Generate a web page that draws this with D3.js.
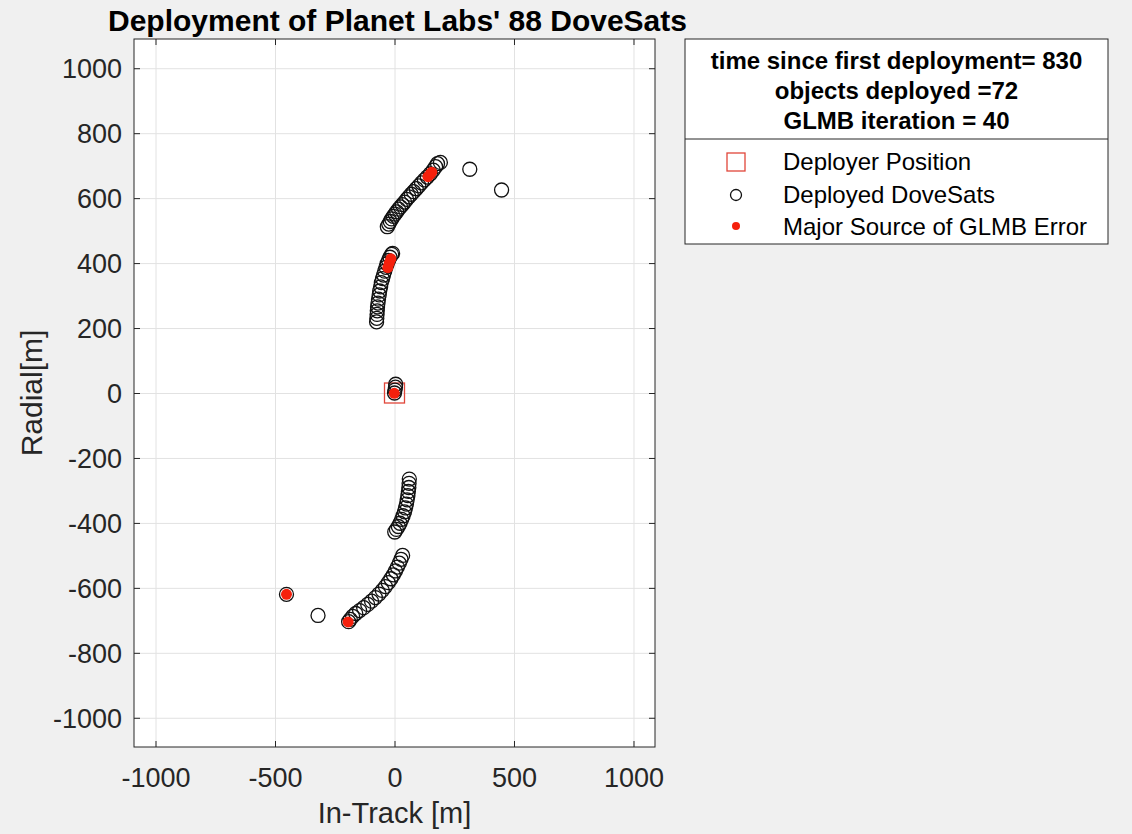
<!DOCTYPE html>
<html>
<head>
<meta charset="utf-8">
<script src="https://cdn.jsdelivr.net/npm/d3@7"></script>
<style>
  html, body { margin: 0; padding: 0; background: #f0f0f0; }
  svg { display: block; font-family: "Liberation Sans", Arial, sans-serif; }
</style>
</head>
<body>
<svg id="chart" width="1132" height="834"></svg>
<script>
// ---------------- data ----------------
const titleText = "Deployment of Planet Labs' 88 DoveSats";
const xLabel = "In-Track [m]";
const yLabel = "Radial[m]";
const xTicks = [-1000, -500, 0, 500, 1000];
const yTicks = [-1000, -800, -600, -400, -200, 0, 200, 400, 600, 800, 1000];

const legendTitle = ["time since first deployment= 830", "objects deployed =72", "GLMB iteration = 40"];
const legendNames = ["Deployer Position", "Deployed DoveSats", "Major Source of GLMB Error"];

// Deployer position
const deployerX = [0];
const deployerY = [0];

// Deployed DoveSats (in-track, radial) in metres
const deployedX = [
  // upper arc
  -30, -24, -18, -12, -5, 2, 9, 17, 25, 33, 42, 51, 60, 70, 80, 91, 102, 113, 125, 137, 150, 162, 172, 180, 192,
  // upper-middle arc
  -75, -74, -73, -72, -71, -69, -67, -64, -62, -58, -55, -50, -46, -41, -36, -31, -25, -19, -12, -8,
  // at deployer
  0, 2, 4, 5,
  // lower-middle arc
  62, 61, 60, 58, 56, 53, 50, 46, 42, 36, 30, 23, 16, 8, 1,
  // lower arc
  34, 27, 20, 12, 4, -5, -15, -26, -38, -51, -65, -80, -96, -112, -129, -146, -162, -175, -185, -192,
  // stragglers
  315, 448, -320, -452
];
const deployedY = [
  512, 520, 528, 536, 544, 551, 558, 566, 573, 580, 588, 596, 604, 612, 620, 629, 638, 647, 656, 665, 675, 686, 697, 706, 710,
  219, 230, 242, 253, 265, 277, 289, 302, 314, 327, 340, 352, 363, 375, 387, 398, 408, 418, 427, 430,
  0, 9, 18, 27,
  -265, -278, -291, -303, -316, -329, -342, -354, -366, -378, -389, -401, -411, -420, -428,
  -500, -512, -524, -536, -548, -560, -572, -584, -596, -608, -619, -630, -641, -651, -661, -670, -679, -688, -697, -704,
  689, 625, -685, -620
];

// Major source of GLMB error
const errorX = [140, 150, 156, -15, -22, -28, -1, -194, -452];
const errorY = [666, 674, 680, 413, 400, 386, -1, -705, -620];

// ---------------- layout ----------------
const svg = d3.select("#chart");
const plot = { left: 134, right: 655, top: 39, bottom: 747 };
const x = d3.scaleLinear().domain([-1090, 1090]).range([plot.left, plot.right]);
const y = d3.scaleLinear().domain([-1090, 1090]).range([plot.bottom, plot.top]);
const FONT = '"Liberation Sans", Arial, sans-serif';
const AXIS_COLOR = "#262626";
const fmt = d => String(d); // plain hyphen-minus like the original

// plot background
svg.append("rect")
  .attr("x", plot.left).attr("y", plot.top)
  .attr("width", plot.right - plot.left).attr("height", plot.bottom - plot.top)
  .attr("fill", "#ffffff");

// grid
const gridX = svg.append("g")
  .attr("transform", `translate(0,${plot.bottom})`)
  .call(d3.axisBottom(x).tickValues(xTicks).tickSize(-(plot.bottom - plot.top)).tickFormat(""));
const gridY = svg.append("g")
  .attr("transform", `translate(${plot.left},0)`)
  .call(d3.axisLeft(y).tickValues(yTicks).tickSize(-(plot.right - plot.left)).tickFormat(""));
[gridX, gridY].forEach(g => {
  g.select(".domain").remove();
  g.selectAll(".tick line").attr("stroke", "#e2e2e2").attr("stroke-width", 1);
});

// data: deployer square
const sq = 20;
svg.append("g").selectAll("rect")
  .data(d3.range(deployerX.length))
  .join("rect")
  .attr("x", i => x(deployerX[i]) - sq / 2)
  .attr("y", i => y(deployerY[i]) - sq / 2)
  .attr("width", sq).attr("height", sq)
  .attr("fill", "none")
  .attr("stroke", "#e0463a")
  .attr("stroke-width", 1.3);

// deployed circles
svg.append("g").selectAll("circle")
  .data(d3.range(deployedX.length))
  .join("circle")
  .attr("cx", i => x(deployedX[i]))
  .attr("cy", i => y(deployedY[i]))
  .attr("r", 7)
  .attr("fill", "none")
  .attr("stroke", "#111111")
  .attr("stroke-width", 1.3);

// error dots
svg.append("g").selectAll("circle")
  .data(d3.range(errorX.length))
  .join("circle")
  .attr("cx", i => x(errorX[i]))
  .attr("cy", i => y(errorY[i]))
  .attr("r", 5.5)
  .attr("fill", "#f5200c");

// axes (ticks inside)
const axB = svg.append("g").attr("transform", `translate(0,${plot.bottom})`)
  .call(d3.axisBottom(x).tickValues(xTicks).tickSizeInner(-6).tickSizeOuter(0).tickPadding(21).tickFormat(fmt));
const axT = svg.append("g").attr("transform", `translate(0,${plot.top})`)
  .call(d3.axisTop(x).tickValues(xTicks).tickSizeInner(-6).tickSizeOuter(0).tickFormat(""));
const axL = svg.append("g").attr("transform", `translate(${plot.left},0)`)
  .call(d3.axisLeft(y).tickValues(yTicks).tickSizeInner(-6).tickSizeOuter(0).tickPadding(12).tickFormat(fmt));
const axR = svg.append("g").attr("transform", `translate(${plot.right},0)`)
  .call(d3.axisRight(y).tickValues(yTicks).tickSizeInner(-6).tickSizeOuter(0).tickFormat(""));
[axB, axT, axL, axR].forEach(g => {
  g.select(".domain").remove();
  g.selectAll(".tick line").attr("stroke", AXIS_COLOR).attr("stroke-width", 1);
  g.selectAll(".tick text")
    .attr("fill", "#262626")
    .style("font-family", FONT)
    .style("font-size", "27px");
});
axL.selectAll(".tick text").attr("dy", "0.35em");

// box
svg.append("rect")
  .attr("x", plot.left).attr("y", plot.top)
  .attr("width", plot.right - plot.left).attr("height", plot.bottom - plot.top)
  .attr("fill", "none").attr("stroke", AXIS_COLOR).attr("stroke-width", 1);

// title
svg.append("text")
  .attr("x", (plot.left + plot.right) / 2 + 3).attr("y", 31)
  .attr("text-anchor", "middle")
  .style("font-family", FONT).style("font-size", "30px").style("font-weight", "bold")
  .attr("fill", "#000")
  .text(titleText);

// axis labels
svg.append("text")
  .attr("x", (plot.left + plot.right) / 2).attr("y", 823)
  .attr("text-anchor", "middle")
  .style("font-family", FONT).style("font-size", "29px")
  .attr("fill", "#262626")
  .text(xLabel);
svg.append("text")
  .attr("transform", `translate(42,${(plot.top + plot.bottom) / 2}) rotate(-90)`)
  .attr("text-anchor", "middle")
  .style("font-family", FONT).style("font-size", "30px")
  .attr("fill", "#262626")
  .text(yLabel);

// legend
const lg = { left: 685, right: 1108, top: 39, divider: 139, bottom: 244 };
svg.append("rect")
  .attr("x", lg.left).attr("y", lg.top)
  .attr("width", lg.right - lg.left).attr("height", lg.bottom - lg.top)
  .attr("fill", "#ffffff").attr("stroke", AXIS_COLOR).attr("stroke-width", 1);
svg.append("line")
  .attr("x1", lg.left).attr("x2", lg.right)
  .attr("y1", lg.divider).attr("y2", lg.divider)
  .attr("stroke", AXIS_COLOR).attr("stroke-width", 1);
const titleBaselines = [69, 99, 129];
svg.append("g").selectAll("text")
  .data(legendTitle)
  .join("text")
  .attr("x", (lg.left + lg.right) / 2)
  .attr("y", (d, i) => titleBaselines[i])
  .attr("text-anchor", "middle")
  .style("font-family", FONT).style("font-size", "24px").style("font-weight", "bold")
  .attr("fill", "#000")
  .text(d => d);

const entryBaselines = [170, 203, 235];
const markerX = 736;
svg.append("g").selectAll("text")
  .data(legendNames)
  .join("text")
  .attr("x", 783)
  .attr("y", (d, i) => entryBaselines[i])
  .style("font-family", FONT).style("font-size", "24px")
  .attr("fill", "#000")
  .text(d => d);
svg.append("rect")
  .attr("x", markerX - 9).attr("y", 162 - 9)
  .attr("width", 18).attr("height", 18)
  .attr("fill", "none").attr("stroke", "#e0463a").attr("stroke-width", 1.3);
svg.append("circle")
  .attr("cx", markerX).attr("cy", 195).attr("r", 5.5)
  .attr("fill", "none").attr("stroke", "#111").attr("stroke-width", 1.3);
svg.append("circle")
  .attr("cx", markerX).attr("cy", 226).attr("r", 4)
  .attr("fill", "#f5200c");
</script>
</body>
</html>
